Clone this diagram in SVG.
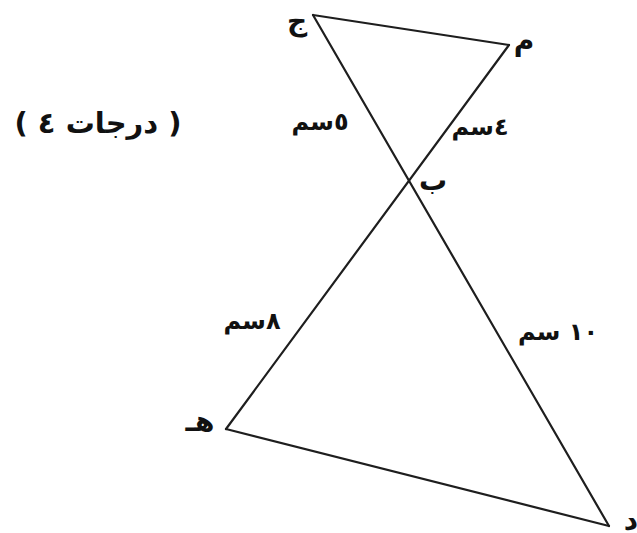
<svg xmlns="http://www.w3.org/2000/svg" width="637" height="533" viewBox="0 0 637 533">
<style>
.bg{fill:#ffffff}
.edge{stroke:#1e1e1e;stroke-width:2.2;fill:none;stroke-linecap:round;stroke-linejoin:round}
.lbl{font-family:"DejaVu Sans","Noto Sans",sans-serif;font-weight:bold;fill:#111;text-anchor:middle}
.pt{font-size:28px}
.len{font-size:24px}
.title{font-size:29px;direction:rtl;unicode-bidi:embed}
</style>
<rect class="bg" x="0" y="0" width="637" height="533"/>
<g id="connectors">
<line class="edge" x1="313" y1="15" x2="509" y2="45"/>
<line class="edge" x1="509" y1="45" x2="226" y2="429"/>
<line class="edge" x1="313" y1="15" x2="609" y2="526"/>
<line class="edge" x1="226" y1="429" x2="609" y2="526"/>
</g>
<g id="node-jeem"><text class="lbl pt" x="297" y="30">ج</text></g>
<g id="node-meem"><text class="lbl pt" x="524" y="50">م</text></g>
<g id="node-beh"><text class="lbl pt" x="433" y="190">ب</text></g>
<g id="node-heh"><text class="lbl pt" x="200" y="431">هـ</text></g>
<g id="node-dal"><text class="lbl pt" x="631" y="530">د</text></g>
<g id="label-5"><text class="lbl len" x="320" y="130">٥سم</text></g>
<g id="label-4"><text class="lbl len" x="480" y="135">٤سم</text></g>
<g id="label-8"><text class="lbl len" x="252" y="329">٨سم</text></g>
<g id="label-10"><text class="lbl len" x="558" y="340">١٠ سم</text></g>
<g id="title"><text class="lbl title" x="98" y="133">( درجات  ٤ )</text></g>
</svg>
